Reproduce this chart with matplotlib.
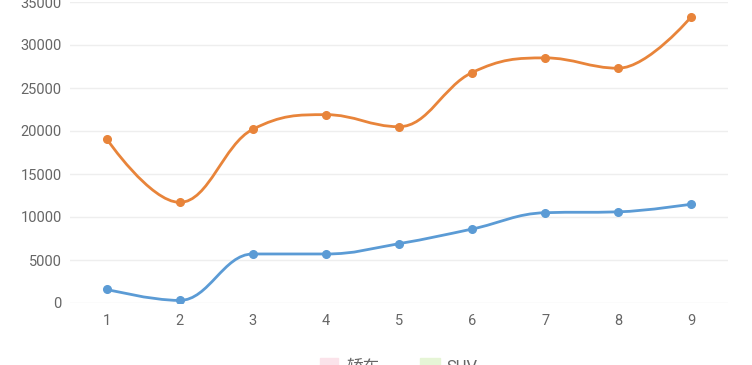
import matplotlib
matplotlib.use('Agg')
import matplotlib.pyplot as plt
from matplotlib.path import Path
from matplotlib.patches import PathPatch

plt.rcParams['font.family'] = ['Roboto', 'Noto Sans CJK SC', 'DejaVu Sans']

# Data
categories = [1, 2, 3, 4, 5, 6, 7, 8, 9]
sedan = [1600, 300, 5700, 5700, 6900, 8600, 10500, 10600, 11500]
suv = [19100, 11700, 20200, 21900, 20500, 26800, 28500, 27300, 33300]
legend_labels = ['轿车', 'SUV']

line_colors = ['#5b9bd5', '#e8843a']
legend_colors = ['#fbe3ea', '#e6f5d6']
text_color = '#666666'


def spline_path(xs, ys, smoothing=1.5):
    # spline with control points kept between neighbours (no false extremes)
    denom = smoothing + 1
    n = len(xs)
    left = [None] * n
    right = [None] * n
    for i in range(1, n - 1):
        x, y = xs[i], ys[i]
        lx, ly = xs[i - 1], ys[i - 1]
        nx, ny = xs[i + 1], ys[i + 1]
        lcx = (smoothing * x + lx) / denom
        lcy = (smoothing * y + ly) / denom
        rcx = (smoothing * x + nx) / denom
        rcy = (smoothing * y + ny) / denom
        corr = (rcy - lcy) * (rcx - x) / (rcx - lcx) + y - rcy
        lcy += corr
        rcy += corr
        if lcy > ly and lcy > y:
            lcy = max(ly, y)
            rcy = 2 * y - lcy
        elif lcy < ly and lcy < y:
            lcy = min(ly, y)
            rcy = 2 * y - lcy
        if rcy > ny and rcy > y:
            rcy = max(ny, y)
            lcy = 2 * y - rcy
        elif rcy < ny and rcy < y:
            rcy = min(ny, y)
            lcy = 2 * y - rcy
        left[i] = (lcx, lcy)
        right[i] = (rcx, rcy)
    verts = [(xs[0], ys[0])]
    codes = [Path.MOVETO]
    for i in range(1, n):
        c0 = right[i - 1] or (xs[i - 1], ys[i - 1])
        c1 = left[i] or (xs[i], ys[i])
        verts += [c0, c1, (xs[i], ys[i])]
        codes += [Path.CURVE4] * 3
    return Path(verts, codes)


fig = plt.figure(figsize=(7.52, 3.65), dpi=100)
ax = fig.add_axes([70 / 752, 1 - 303 / 365, 658 / 752, 301 / 365])
ax.set_xlim(0.5, 9.5)
ax.set_ylim(0, 35000)

for vals, color in zip([sedan, suv], line_colors):
    p = spline_path(categories, vals)
    ax.add_patch(PathPatch(p, facecolor='none', edgecolor=color, lw=2, zorder=3))
    ax.plot(categories, vals, 'o', color=color, ms=5.5, zorder=4)

ax.set_yticks(range(0, 35001, 5000))
ax.set_xticks(categories)
ax.grid(axis='y', color='#eeeeee', lw=1)
ax.set_axisbelow(True)
for s in ax.spines.values():
    s.set_visible(False)
ax.tick_params(length=0, colors=text_color, labelsize=10.5)
ax.tick_params(axis='y', pad=6)
ax.tick_params(axis='x', pad=8)

# legend at bottom, partly cut off like the original
fig.patches.append(plt.Rectangle((320 / 752, 1 - 372 / 365), 18 / 752, 14 / 365,
                                 transform=fig.transFigure, color=legend_colors[0]))
fig.patches.append(plt.Rectangle((420 / 752, 1 - 372 / 365), 20 / 752, 14 / 365,
                                 transform=fig.transFigure, color=legend_colors[1]))
fig.text(346 / 752, 1 - 367 / 365, legend_labels[0], color=text_color, fontsize=12,
         va='center', ha='left')
fig.text(446 / 752, 1 - 367 / 365, legend_labels[1], color=text_color, fontsize=12,
         va='center', ha='left')

fig.savefig('out.png', dpi=100)
